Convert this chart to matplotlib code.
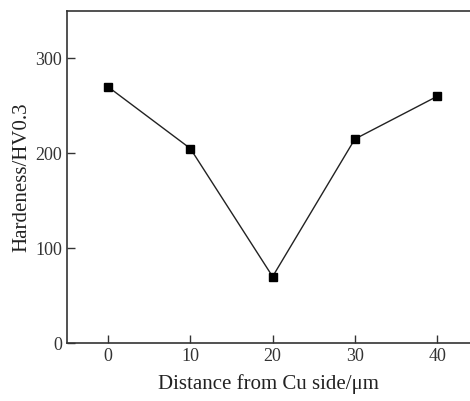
import matplotlib
matplotlib.use('Agg')
import matplotlib.pyplot as plt

# hardness profile across the joint
distance = [0, 10, 20, 30, 40]
hardness = [270, 205, 70, 215, 260]
xticks = [0, 10, 20, 30, 40]
yticks = [0, 100, 200, 300]

plt.rcParams['font.family'] = ['Liberation Serif', 'DejaVu Serif']

fig = plt.figure(figsize=(4.70, 4.01), dpi=100)
ax = fig.add_axes([67 / 470, 58 / 401, 1 - 67 / 470, 332 / 401])

ax.plot(distance, hardness, color='#222222', lw=1.0,
        marker='s', ms=5.2, mfc='black', mec='black')

ax.set_xlim(-5, 44)
ax.set_ylim(0, 350)
ax.set_xticks(xticks)
ax.set_yticks(yticks)
ax.tick_params(direction='in', length=6, width=1, labelsize=13, colors='#333333')
ax.spines['right'].set_visible(False)
for s in ['left', 'bottom', 'top']:
    ax.spines[s].set_linewidth(1.2)
    ax.spines[s].set_color('#333333')

ax.set_xlabel('Distance from Cu side/μm', fontsize=15, color='#222222', labelpad=7)
ax.set_ylabel('Hardeness/HV0.3', fontsize=15, color='#222222', labelpad=2.5)

fig.savefig('out.png', dpi=100)
